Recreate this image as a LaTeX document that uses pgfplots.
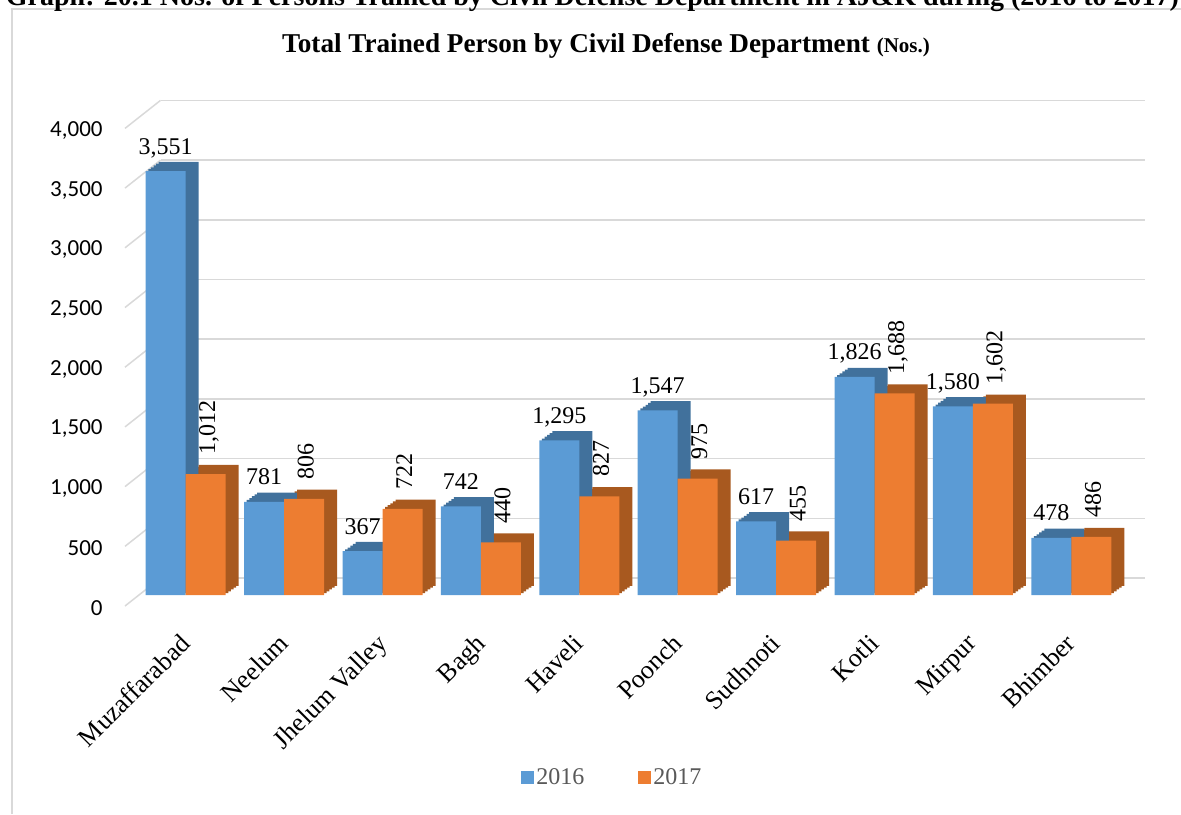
\documentclass[border=0pt]{standalone}
\usepackage{fontspec}
\setmainfont{Liberation Serif}
\newfontfamily\carlito{Carlito}
\usepackage{pgfplots}
\usepackage{pgfplotstable}
\pgfplotsset{compat=1.18}

\definecolor{blue16}{HTML}{5B9BD5}
\definecolor{blue16d}{HTML}{41719C}
\definecolor{orange17}{HTML}{ED7D31}
\definecolor{orange17d}{HTML}{A8591F}
\definecolor{gridgray}{HTML}{D9D9D9}
\definecolor{legendgray}{HTML}{595959}

% trained persons per district
\pgfplotstableread{
x y2016 y2017
0 3551 1012
1 781 806
2 367 722
3 742 440
4 1295 827
5 1547 975
6 617 455
7 1826 1688
8 1580 1602
9 478 486
}\trained

\begin{document}
\begin{tikzpicture}[x=1pt,y=1pt]
\path[use as bounding box] (-68.25,-109.5) rectangle (522.25,297.5);
\draw[gridgray, line width=0.75pt] (-62.25,-109.5) -- (-62.25,293) -- (522.25,293);
\node[font=\bfseries\fontsize{14}{16}\selectfont, anchor=base, inner sep=0pt] at (228,294.5)
  {Graph: 20.1 Nos. of Persons Trained by Civil Defense Department in AJ\&K during (2016 to 2017)};
\node[font=\bfseries\fontsize{13.6}{16}\selectfont, anchor=base, inner sep=0pt] at (234.75,271)
  {Total Trained Person by Civil Defense Department {\fontsize{10.5}{12}\selectfont (Nos.)}};

\begin{axis}[
  at={(0,0)}, anchor=south west,
  width=492pt, height=238.8pt, scale only axis, clip=false,
  xmin=-0.5, xmax=9.5, ymin=0, ymax=4000,
  axis line style={draw=none}, major tick length=0pt,
  xtick={0,...,9},
  xticklabels={Muzaffarabad,Neelum,Jhelum Valley,Bagh,Haveli,Poonch,Sudhnoti,Kotli,Mirpur,Bhimber},
  ytick={0,500,...,4000},
  ymajorgrids, grid style={gridgray, line width=0.75pt, xshift=12pt, yshift=8.5pt},
  /pgf/number format/.cd, 1000 sep={,}, assume math mode=true, /pgfplots/.cd,
  yticklabel style={font=\carlito\fontsize{11.5}{13}\selectfont, inner sep=0pt, xshift=-16.75pt, yshift=-6.5pt},
  xticklabel style={font=\fontsize{13}{15}\selectfont, inner sep=0pt, xshift=-3.5pt, yshift=-18.5pt, rotate=45, anchor=north east},
  legend style={at={(rel axis cs:0.4837,-0.383)}, anchor=center, draw=none, inner sep=0pt,
    font=\color{legendgray}\fontsize{12}{14}\selectfont, nodes={inner sep=1.25pt},
    /tikz/every even column/.append style={column sep=25.5pt}},
  legend columns=2,
  legend image code/.code={\fill[#1] (0pt,-3.25pt) rectangle (6.5pt,3.25pt);},
]
% short slanted pieces of the grid lines (floor to back wall)
\pgfplotsinvokeforeach{0,500,1000,1500,2000,2500,3000,3500,4000}{
  \draw[gridgray, line width=0.75pt] ([xshift=-5.75pt,yshift=-5.5pt]axis cs:-0.5,#1) -- ([xshift=12pt,yshift=8.5pt]axis cs:-0.5,#1);
}
% depth of the bars
\pgfplotsinvokeforeach{0.2,0.4,0.6,0.8,1}{
  \addplot[ybar, bar width=20pt, bar shift=-10pt, fill=blue16d, draw=none, forget plot,
    xshift=#1*6.5pt, yshift=#1*4.6pt] table[x=x,y=y2016]{\trained};
  \addplot[ybar, bar width=20pt, bar shift=10pt, fill=orange17d, draw=none, forget plot,
    xshift=#1*6.5pt, yshift=#1*4.6pt] table[x=x,y=y2017]{\trained};
}
% front faces
\addplot[ybar, bar width=20pt, bar shift=-10pt, fill=blue16, draw=none,
  nodes near coords, nodes near coords style={font=\fontsize{12}{14}\selectfont, color=black,
    inner sep=0pt, xshift=-10pt, yshift=8.5pt, anchor=base}]
  table[x=x,y=y2016]{\trained};
\addlegendentry{2016}
\addplot[ybar, bar width=20pt, bar shift=10pt, fill=orange17, draw=none,
  nodes near coords, nodes near coords style={font=\fontsize{12}{14}\selectfont, color=black,
    inner sep=0pt, xshift=14.75pt, yshift=9.5pt, rotate=90, anchor=base west}]
  table[x=x,y=y2017]{\trained};
\addlegendentry{2017}
\end{axis}
\end{tikzpicture}
\end{document}
